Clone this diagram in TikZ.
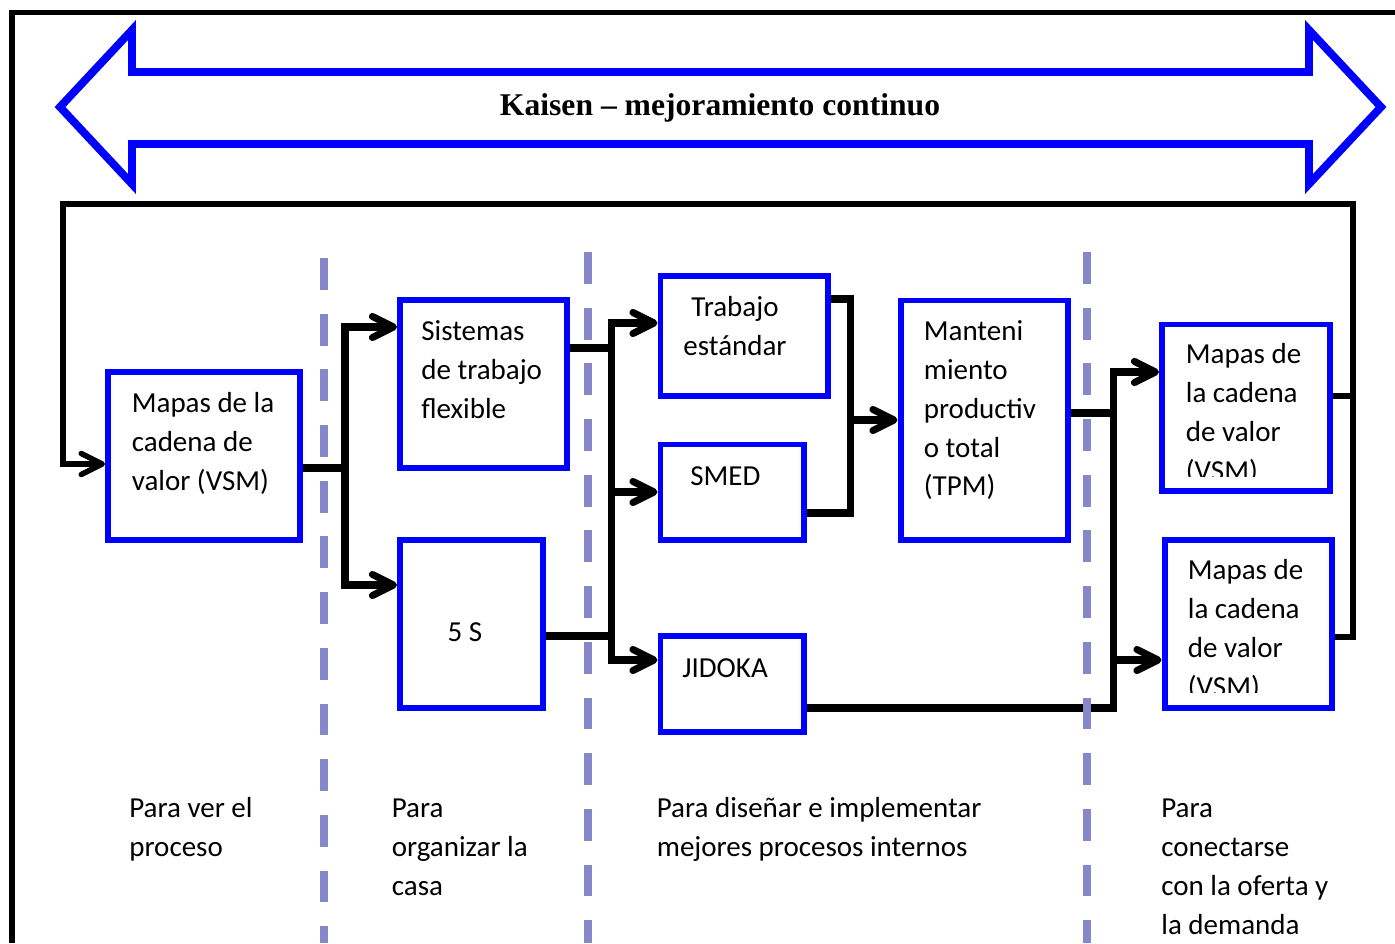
\documentclass[tikz,border=0pt]{standalone}
\usepackage{fontspec}
\setmainfont{Carlito}
\newfontfamily\titlefont{Liberation Serif}
\usetikzlibrary{positioning,arrows.meta,fit}
\definecolor{kblue}{RGB}{0,0,255}
\definecolor{sepgray}{RGB}{134,134,202}
\tikzset{
  box/.style={draw=kblue,line width=3.4pt,inner sep=0pt},
  conn/.style={line width=4pt},
  arr/.style={conn,-{Straight Barb[length=12pt,width=12pt,round]}},
  loopline/.style={line width=3.1pt},
  loopar/.style={loopline,-{Straight Barb[length=12pt,width=12pt,round]}},
  divider/.style={draw=sepgray,line width=4.2pt,dash pattern=on 18.1pt off 13.6pt},
  frame/.style={line width=3.2pt},
  kaisen/.style={draw=kblue,line width=4.5pt,line join=miter},
  txt/.style={font=\fontsize{16.5}{22.1}\selectfont,align=left,inner sep=0pt,anchor=north west},
  ttl/.style={font=\titlefont\bfseries\fontsize{18}{22}\selectfont,inner sep=0pt,anchor=base}
}
\begin{document}
\begin{tikzpicture}[x=0.02cm,y=-0.02cm]
  \useasboundingbox (0,0) rectangle (1395,943);
  \draw[frame] (12,943) -- (12,12.5) -- (1395,12.5);
  % kaisen band
  \draw[kaisen] (60,107) -- (132,30) -- (132,72) -- (1309,72) -- (1309,30) -- (1381,107)
    -- (1309,184) -- (1309,144) -- (132,144) -- (132,184) -- cycle;
  \node[ttl] (kaisen) at (720,115) {Kaisen – mejoramiento continuo};

  % boxes
  \node[box,fit={(108,372) (300,540)}] (vsmA) {};
  \node[box,fit={(400,300) (567,468)}] (sist) {};
  \node[box,fit={(400,540) (543,708)}] (cinco) {};
  \node[box,fit={(660.5,276) (828,396)}] (trab) {};
  \node[box,fit={(660.5,444.5) (804,540)}] (smed) {};
  \node[box,fit={(660.5,636) (804,732)}] (jidoka) {};
  \node[box,fit={(900.5,300.5) (1068,540)}] (tpm) {};
  \node[box,fit={(1162,324.5) (1330,491)}] (vsmB) {};
  \node[box,fit={(1164.5,540) (1332,708)}] (vsmC) {};

  % texts
  \node[txt] (tVsmA) at (131.5,385) {\strut Mapas de la\\cadena de\\valor (VSM)};
  \node[txt] (tSist) at (421,313) {\strut Sistemas\\de trabajo\\flexible};
  \node[txt,anchor=base] (tCinco) at (465,641) {5 S};
  \node[txt,anchor=north,align=center] (tTrab) at (735,289) {\strut Trabajo\\estándar};
  \node[txt] (tSmed) at (690,458) {\strut SMED};
  \node[txt] (tJid) at (682,650) {\strut JIDOKA};
  \node[txt] (tTpm) at (923.5,313) {\strut Manteni\\miento\\productiv\\o total\\(TPM)};
  \begin{scope}
    \clip (1166,330) rectangle (1326,476);
    \node[txt] (tVsmB) at (1185.5,336) {\strut Mapas de\\la cadena\\de valor\\(VSM)};
  \end{scope}
  \begin{scope}
    \clip (1168,545) rectangle (1328,692);
    \node[txt] (tVsmC) at (1187.5,552) {\strut Mapas de\\la cadena\\de valor\\(VSM)};
  \end{scope}

  % connectors
  \coordinate (brA) at (345,468);
  \draw[conn] (vsmA.east |- brA) -- (brA);
  \draw[arr] (brA) |- (sist.west |- 0,327);
  \draw[arr] (brA) |- (cinco.west |- 0,585);
  \coordinate (brB) at (611.5,348);
  \coordinate (brC) at (611.5,636);
  \draw[conn] (sist.east |- brB) -- (brB);
  \draw[conn] (cinco.east |- brC) -- (brC);
  \draw[conn] (brB) -- (brC);
  \draw[arr] (brB) |- (trab.west |- 0,323);
  \draw[arr] (brB) |- (smed.west |- 0,492);
  \draw[arr] (brC) |- (jidoka.west |- 0,660);
  \coordinate (brD) at (850,420);
  \draw[conn] (trab.east |- 0,299) -| (brD);
  \draw[conn] (smed.east |- 0,513) -| (brD);
  \draw[arr] (brD) -- (tpm.west |- brD);
  \coordinate (brE) at (1113,413);
  \draw[conn] (tpm.east |- brE) -- (brE);
  \draw[conn] (jidoka.east |- 0,708) -| (brE);
  \draw[arr] (brE) |- (vsmB.west |- 0,372);
  \draw[arr] (brE) |- (vsmC.west |- 0,660);
  % loop back
  \coordinate (loopR) at (1353,204);
  \coordinate (loopL) at (63,204);
  \draw[loopline] (vsmB.east |- 0,396) -- (loopR |- 0,396);
  \draw[loopar] (vsmC.east |- 0,637) -| (loopR) -- (loopL) |- (vsmA.west |- 0,464);

  % dividers
  \foreach \x/\y in {324/258,588/252,1087/252}
    \draw[divider] (\x,\y) -- (\x,943);

  % bottom texts
  \node[txt] (tVer) at (129,790) {\strut Para ver el\\proceso};
  \node[txt] (tOrg) at (391.5,790) {\strut Para\\organizar la\\casa};
  \node[txt] (tDis) at (656.5,790) {\strut Para diseñar e implementar\\mejores procesos internos};
  \node[txt] (tCon) at (1161,790) {\strut Para\\conectarse\\con la oferta y\\la demanda};
\end{tikzpicture}
\end{document}
